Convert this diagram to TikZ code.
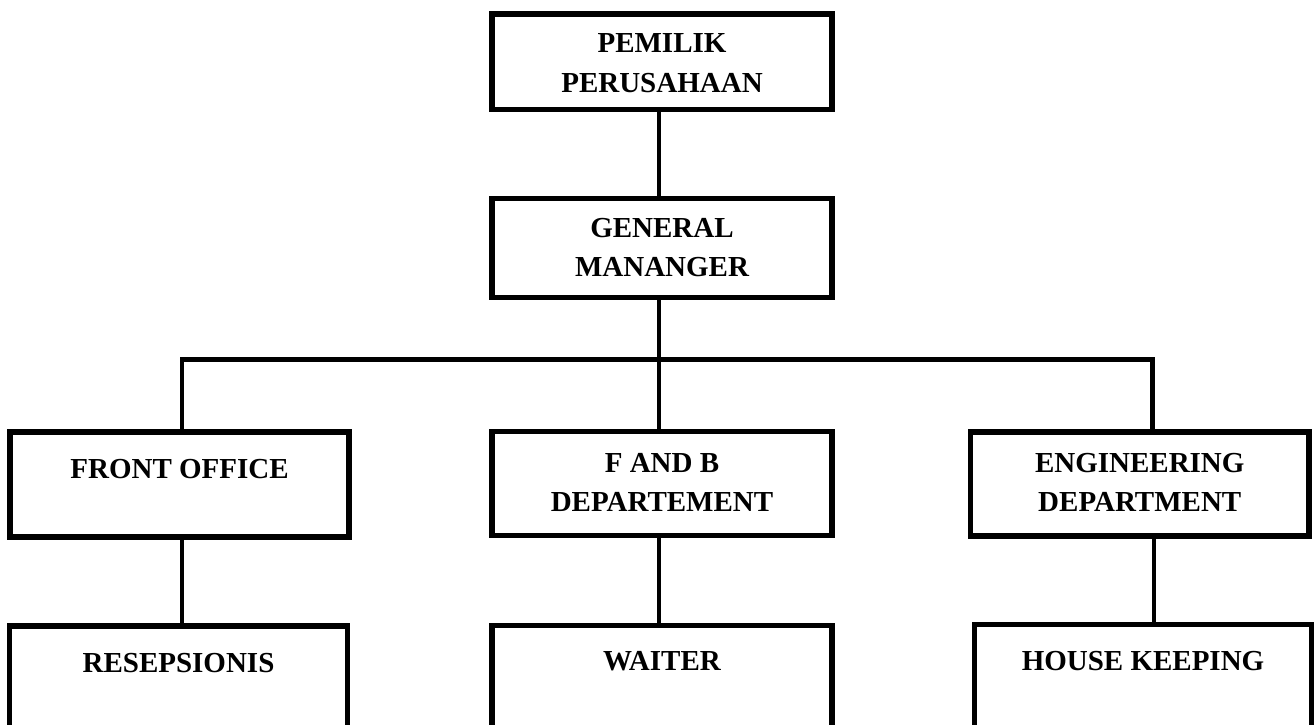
\documentclass[tikz,border=0pt]{standalone}
\usepackage{fontspec}
\setmainfont{Liberation Serif}
\newcommand\bxt[4]{\parbox[t][#2][t]{#1}{\centering\fontsize{29bp}{39bp}\selectfont\bfseries\rule{0pt}{#3}#4}}
\begin{document}
\begin{tikzpicture}[x=1bp,y=-1bp,
  bx/.style={draw, line width=5.5bp, inner sep=0pt, outer sep=0pt, anchor=north west},
  conn/.style={line width=4.3bp}]
\useasboundingbox (0,0) rectangle (1315,724);
\node[bx] (own) at (492,14) {\bxt{340bp}{95.5bp}{39bp}{PEMILIK\\PERUSAHAAN}};
\node[bx] (gm) at (492,198.5) {\bxt{340bp}{99bp}{39bp}{GENERAL\\MANANGER}};
\node[bx] (fo) at (10,432) {\bxt{339bp}{105bp}{46bp}{FRONT OFFICE}};
\node[bx] (fb) at (492,431.5) {\bxt{340bp}{104bp}{40.5bp}{F AND B\\DEPARTEMENT}};
\node[bx] (eng) at (970.5,432) {\bxt{338.5bp}{104bp}{40bp}{ENGINEERING\\DEPARTMENT}};
\node[bx] (res) at (9.5,626) {\bxt{338bp}{110bp}{46bp}{RESEPSIONIS}};
\node[bx] (wai) at (492,625.5) {\bxt{340bp}{110bp}{44.5bp}{WAITER}};
\node[bx] (hk) at (974.5,624.5) {\bxt{337bp}{110bp}{46bp}{HOUSE KEEPING}};
\coordinate (hub) at (659,359.5);
\coordinate (hl) at (182,359.5);
\coordinate (hr) at (1152.5,359.5);
\coordinate (hk2) at (1154,0);
\draw[conn] (own.south -| hub) -- (gm.north -| hub);
\draw[conn] (gm.south -| hub) -- (hub) -- (fb.north -| hub);
\draw[conn] (fo.north -| hl) -- (hl) -- (hr) -- (eng.north -| hr);
\draw[conn] (fo.south -| hl) -- (res.north -| hl);
\draw[conn] (fb.south -| hub) -- (wai.north -| hub);
\draw[conn] (eng.south -| hk2) -- (hk.north -| hk2);
\end{tikzpicture}
\end{document}
